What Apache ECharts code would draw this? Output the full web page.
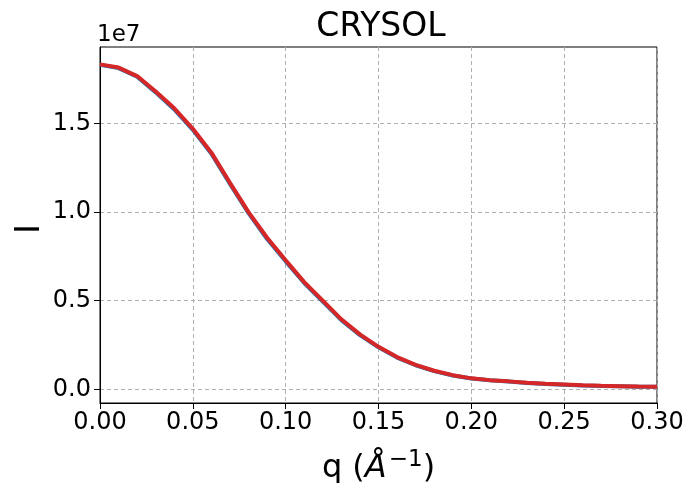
<!DOCTYPE html>
<html>
<head>
<meta charset="utf-8">
<script src="https://cdn.jsdelivr.net/npm/echarts@6/dist/echarts.min.js"></script>
<style>html,body{margin:0;padding:0;background:#fff}#c{width:690px;height:483px}</style>
</head>
<body>
<div id="c"></div>
<script>
// q values (1/Å)
var qValues = [0.00,0.01,0.02,0.03,0.04,0.05,0.06,0.07,0.08,0.09,0.10,0.11,0.12,0.13,0.14,0.15,0.16,0.17,0.18,0.19,0.20,0.21,0.22,0.23,0.24,0.25,0.26,0.27,0.28,0.29,0.30];
// intensities in units of 1e7
var blueI = [1.831,1.812,1.763,1.675,1.579,1.464,1.329,1.159,0.994,0.848,0.722,0.600,0.495,0.390,0.306,0.237,0.179,0.136,0.103,0.078,0.061,0.051,0.044,0.036,0.030,0.026,0.022,0.019,0.017,0.015,0.014];
var redI  = [1.833,1.815,1.767,1.680,1.585,1.470,1.335,1.165,1.000,0.855,0.728,0.605,0.500,0.395,0.310,0.240,0.182,0.138,0.105,0.080,0.062,0.052,0.045,0.037,0.031,0.027,0.023,0.020,0.018,0.016,0.015];
var yTicks = [0, 0.5, 1.0, 1.5];

var FONT = 'DejaVu Sans';
function pairs(xs, ys){ return xs.map(function(x,i){ return [x, ys[i]]; }); }

var chart = echarts.init(document.getElementById('c'), null, {renderer:'canvas'});
chart.setOption({
  animation: false,
  backgroundColor: '#fff',
  title: {
    text: 'CRYSOL', left: 376, top: 6, textAlign: 'center',
    textStyle: {fontFamily: FONT, fontSize: 33, fontWeight: 'normal', color: '#000'}
  },
  graphic: [{
    type: 'text', left: 97, top: 24,
    style: {text: '1e7', fontFamily: FONT, fontSize: 23, fill: '#000'}
  }, {
    type: 'text', x: 30, y: 229, rotation: Math.PI / 2,
    style: {text: 'I', fontFamily: FONT, fontSize: 34, fill: '#000', align: 'center', verticalAlign: 'middle'}
  }],
  grid: {left: 100, right: 33, top: 47, bottom: 80, show: true, borderColor: '#000', borderWidth: 1,
    backgroundColor: 'transparent', outerBoundsMode: 'none', containLabel: false},
  xAxis: {
    type: 'value', min: 0, max: 0.3, interval: 0.05,
    axisLine: {show: true, onZero: false, lineStyle: {color: '#000', width: 1}},
    axisTick: {show: true, length: 6, inside: false, lineStyle: {color: '#000'}},
    axisLabel: {fontFamily: FONT, fontSize: 24, color: '#000', margin: 8,
      formatter: function(v){ return v.toFixed(2); }},
    splitLine: {show: true, lineStyle: {color: '#b0b0b0', type: [4, 3], width: 1}},
    name: '{a|q (}{i|Å}{s|−1}{a|)}',
    nameLocation: 'middle', nameGap: 46,
    nameTextStyle: {
      rich: {
        a: {fontFamily: FONT, fontSize: 32, color: '#000'},
        i: {fontFamily: FONT, fontSize: 32, fontStyle: 'italic', color: '#000'},
        s: {fontFamily: FONT, fontSize: 23, color: '#000', padding: [0, 0, 17, 2]}
      }
    }
  },
  yAxis: {
    type: 'value', min: -0.077, max: 1.931,
    axisLine: {show: true, onZero: false, lineStyle: {color: '#000', width: 1}},
    axisTick: {show: true, length: 6, customValues: yTicks, lineStyle: {color: '#000'}},
    axisLabel: {fontFamily: FONT, fontSize: 24, color: '#000', margin: 9, customValues: yTicks,
      formatter: function(v){ return v.toFixed(1); }},
    splitLine: {show: true, lineStyle: {color: '#b0b0b0', type: [4, 3], width: 1}}
  },
  series: [
    {type: 'line', data: pairs(qValues, blueI), showSymbol: false, lineStyle: {color: '#1f77b4', width: 4}, z: 2},
    {type: 'line', data: pairs(qValues, redI), showSymbol: false, lineStyle: {color: '#d62728', width: 4}, z: 3}
  ]
});
</script>
</body>
</html>
